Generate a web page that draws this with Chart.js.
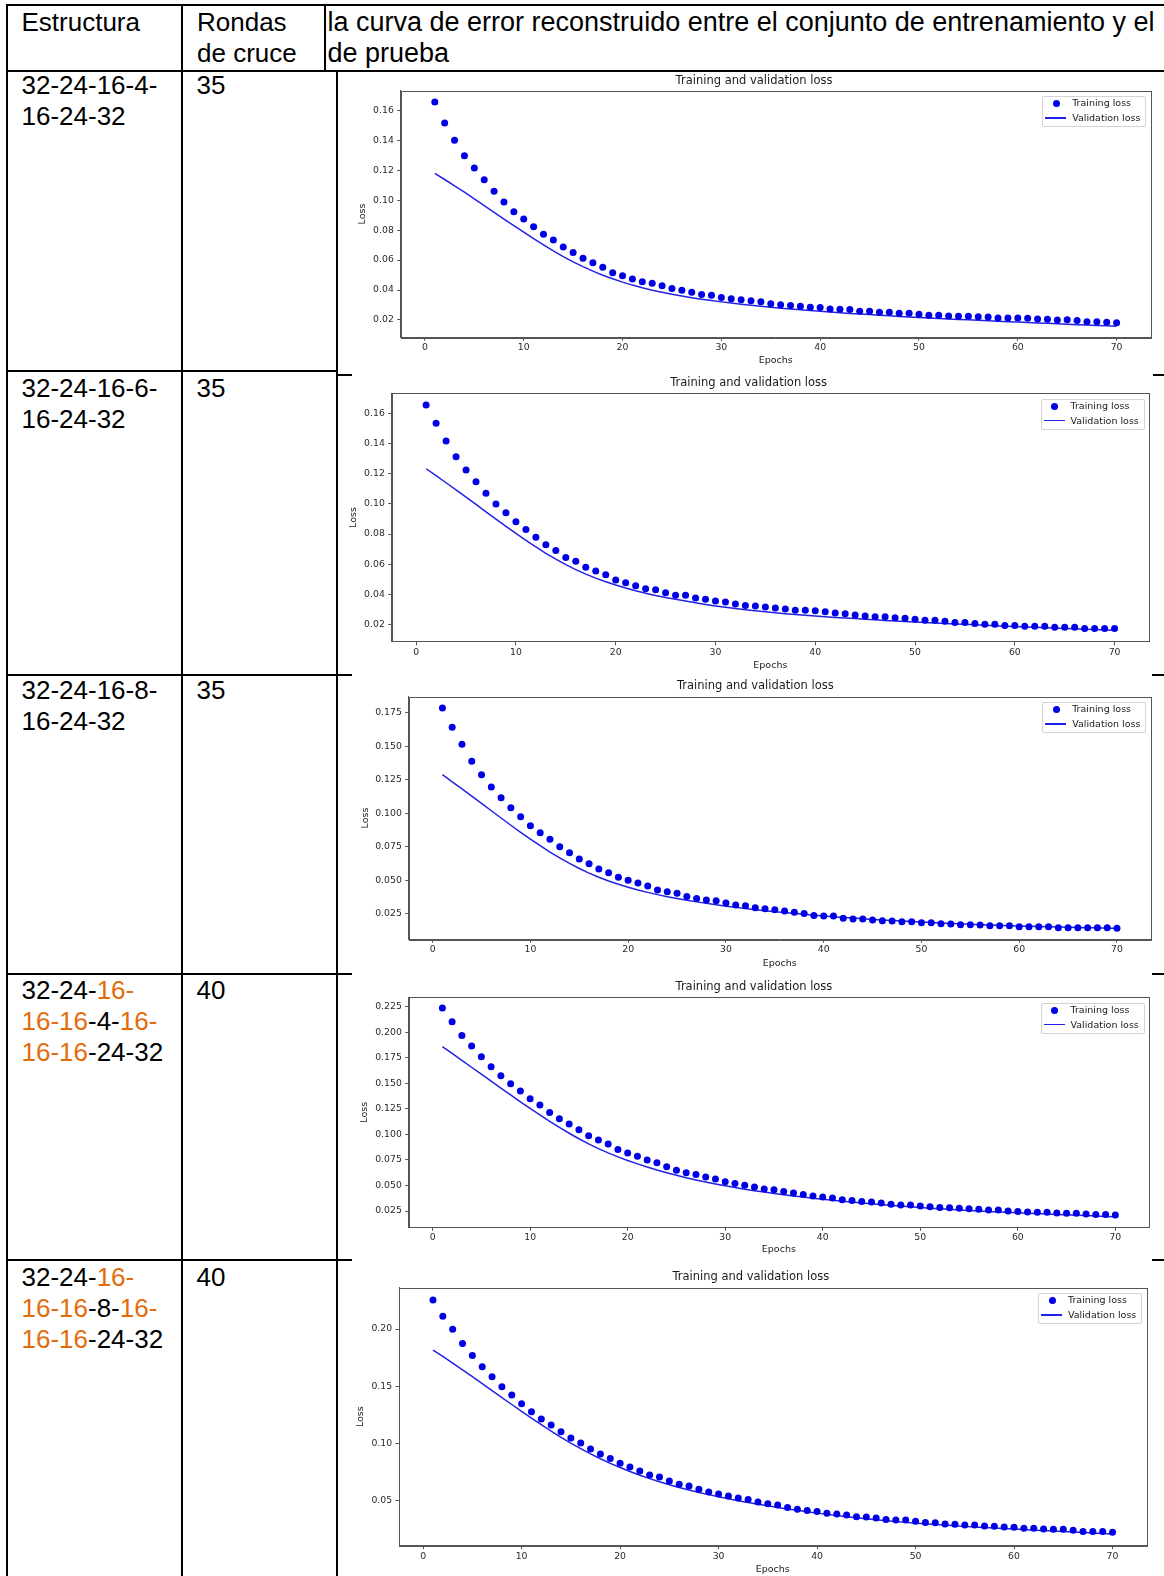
<!DOCTYPE html>
<html><head><meta charset="utf-8">
<script src="https://cdn.jsdelivr.net/npm/chart.js@4.4.1/dist/chart.umd.min.js"></script>
<style>
html,body{margin:0;padding:0;background:#fff;}
body{width:1164px;height:1576px;position:relative;overflow:hidden;font-family:"Liberation Sans",Arial,sans-serif;}
.ln{position:absolute;background:#000;}
.tx{position:absolute;font-size:26px;line-height:31px;color:#000;white-space:nowrap;}
.tx.h3{font-size:27px;}
.o{color:#e36c0a;}
canvas{position:absolute;}
.lg{position:absolute;box-sizing:border-box;width:104px;height:31px;border:1px solid rgba(204,204,204,0.85);border-radius:2px;background:rgba(255,255,255,0.8);font-family:"DejaVu Sans",sans-serif;font-size:9.5px;color:#1a1a1a;white-space:nowrap;}
.lg .dot{position:absolute;left:9.7px;top:3.2px;width:7px;height:7px;border-radius:50%;background:#0000e6;}
.lg .bar{position:absolute;left:2px;top:20.2px;width:21px;height:1.6px;background:#2020e6;}
.lg .t1{position:absolute;left:29px;top:0.6px;line-height:11.4px;}
.lg .t2{position:absolute;left:29px;top:15.3px;line-height:11.4px;}
</style>
</head><body>

<!-- table rules -->
<div class="ln" style="left:6.3px;top:4px;width:1157.7px;height:2px"></div>
<div class="ln" style="left:6.3px;top:4px;width:2px;height:1572px"></div>
<div class="ln" style="left:180.7px;top:4px;width:2px;height:1572px"></div>
<div class="ln" style="left:324px;top:4px;width:2px;height:67px"></div>
<div class="ln" style="left:336.3px;top:70px;width:2px;height:1506px"></div>
<div class="ln" style="left:6.3px;top:69.7px;width:1157.7px;height:2px"></div>
<div class="ln" style="left:6.3px;top:369.7px;width:332px;height:2px"></div>
<div class="ln" style="left:338px;top:373.7px;width:14px;height:2px"></div>
<div class="ln" style="left:1153px;top:373.7px;width:11px;height:2px"></div>
<div class="ln" style="left:6.3px;top:673.5px;width:346px;height:2px"></div>
<div class="ln" style="left:1152px;top:673.7px;width:12px;height:2px"></div>
<div class="ln" style="left:6.3px;top:973px;width:346px;height:2px"></div>
<div class="ln" style="left:1152px;top:973px;width:12px;height:2px"></div>
<div class="ln" style="left:6.3px;top:1259px;width:346px;height:2px"></div>
<div class="ln" style="left:1152px;top:1258.7px;width:12px;height:2px"></div>

<!-- header -->
<div class="tx" style="left:21.5px;top:7px">Estructura</div>
<div class="tx" style="left:197px;top:7px">Rondas<br>de cruce</div>
<div class="tx h3" style="left:327.5px;top:7px">la curva de error reconstruido entre el conjunto de entrenamiento y el<br>de prueba</div>

<!-- rows -->
<div class="tx" style="left:21.5px;top:70.3px">32-24-16-4-<br>16-24-32</div>
<div class="tx" style="left:196.5px;top:70.3px">35</div>
<div class="tx" style="left:21.5px;top:372.8px">32-24-16-6-<br>16-24-32</div>
<div class="tx" style="left:196.5px;top:372.8px">35</div>
<div class="tx" style="left:21.5px;top:675.4px">32-24-16-8-<br>16-24-32</div>
<div class="tx" style="left:196.5px;top:675.4px">35</div>
<div class="tx" style="left:21.5px;top:974.8px">32-24-<span class="o">16-</span><br><span class="o">16-16</span>-4-<span class="o">16-</span><br><span class="o">16-16</span>-24-32</div>
<div class="tx" style="left:196.5px;top:974.8px">40</div>
<div class="tx" style="left:21.5px;top:1262.4px">32-24-<span class="o">16-</span><br><span class="o">16-16</span>-8-<span class="o">16-</span><br><span class="o">16-16</span>-24-32</div>
<div class="tx" style="left:196.5px;top:1262.4px">40</div>

<canvas id="c1"></canvas><canvas id="c2"></canvas><canvas id="c3"></canvas><canvas id="c4"></canvas><canvas id="c5"></canvas>
<div class="lg" id="lg1"><span class="dot"></span><span class="bar"></span><span class="t1">Training loss</span><span class="t2">Validation loss</span></div>
<div class="lg" id="lg2"><span class="dot"></span><span class="bar"></span><span class="t1">Training loss</span><span class="t2">Validation loss</span></div>
<div class="lg" id="lg3"><span class="dot"></span><span class="bar"></span><span class="t1">Training loss</span><span class="t2">Validation loss</span></div>
<div class="lg" id="lg4"><span class="dot"></span><span class="bar"></span><span class="t1">Training loss</span><span class="t2">Validation loss</span></div>
<div class="lg" id="lg5"><span class="dot"></span><span class="bar"></span><span class="t1">Training loss</span><span class="t2">Validation loss</span></div>

<script>
const epochs = [1,2,3,4,5,6,7,8,9,10,11,12,13,14,15,16,17,18,19,20,21,22,23,24,25,26,27,28,29,30,31,32,33,34,35,36,37,38,39,40,41,42,43,44,45,46,47,48,49,50,51,52,53,54,55,56,57,58,59,60,61,62,63,64,65,66,67,68,69,70];
const xTicks = [0,10,20,30,40,50,60,70];
const xTickLabels = ['0','10','20','30','40','50','60','70'];

const train1 = [0.1655,0.1515,0.1400,0.1297,0.1215,0.1137,0.1060,0.0988,0.0923,0.0874,
 0.0823,0.0772,0.0734,0.0687,0.0650,0.0612,0.0583,0.0552,0.0516,0.0496,
 0.0474,0.0456,0.0445,0.0429,0.0411,0.0398,0.0385,0.0371,0.0365,0.0351,
 0.0342,0.0336,0.0329,0.0322,0.0309,0.0302,0.0296,0.0292,0.0285,0.0283,
 0.0274,0.0272,0.0270,0.0258,0.0258,0.0252,0.0252,0.0245,0.0245,0.0238,
 0.0231,0.0231,0.0227,0.0225,0.0225,0.0222,0.0220,0.0213,0.0213,0.0213,
 0.0211,0.0207,0.0205,0.0200,0.0202,0.0196,0.0189,0.0189,0.0185,0.0182];
const val1 = [0.1179,0.1138,0.1096,0.1053,0.1009,0.0964,0.0919,0.0874,0.0830,0.0786,
 0.0743,0.0701,0.0661,0.0623,0.0588,0.0556,0.0526,0.0499,0.0475,0.0453,
 0.0433,0.0415,0.0399,0.0385,0.0372,0.0360,0.0349,0.0339,0.0330,0.0321,
 0.0313,0.0305,0.0298,0.0291,0.0285,0.0279,0.0273,0.0268,0.0263,0.0258,
 0.0253,0.0248,0.0244,0.0240,0.0236,0.0232,0.0228,0.0224,0.0220,0.0216,
 0.0213,0.0210,0.0207,0.0204,0.0201,0.0198,0.0195,0.0192,0.0189,0.0186,
 0.0183,0.0180,0.0178,0.0175,0.0172,0.0169,0.0167,0.0164,0.0162,0.0159];
const yTicks1 = [0.02,0.04,0.06,0.08,0.10,0.12,0.14,0.16];
const yLabels1 = ['0.02','0.04','0.06','0.08','0.10','0.12','0.14','0.16'];

const train2 = [0.1658,0.1536,0.1418,0.1314,0.1226,0.1148,0.1071,0.1000,0.0942,0.0882,
 0.0831,0.0778,0.0729,0.0690,0.0645,0.0619,0.0579,0.0554,0.0530,0.0495,
 0.0477,0.0457,0.0437,0.0430,0.0410,0.0393,0.0393,0.0375,0.0366,0.0355,
 0.0348,0.0335,0.0326,0.0322,0.0315,0.0308,0.0302,0.0293,0.0293,0.0291,
 0.0284,0.0275,0.0271,0.0262,0.0255,0.0251,0.0251,0.0244,0.0240,0.0233,
 0.0227,0.0227,0.0220,0.0213,0.0213,0.0206,0.0200,0.0200,0.0193,0.0193,
 0.0187,0.0187,0.0187,0.0180,0.0180,0.0180,0.0173,0.0173,0.0173,0.0173];
const val2 = [0.1234,0.1188,0.1141,0.1094,0.1046,0.0997,0.0948,0.0899,0.0851,0.0804,
 0.0758,0.0714,0.0672,0.0633,0.0597,0.0564,0.0534,0.0507,0.0483,0.0461,
 0.0441,0.0423,0.0407,0.0392,0.0379,0.0367,0.0355,0.0343,0.0332,0.0322,
 0.0313,0.0305,0.0297,0.0290,0.0283,0.0277,0.0271,0.0266,0.0261,0.0256,
 0.0251,0.0246,0.0242,0.0238,0.0234,0.0230,0.0226,0.0222,0.0219,0.0215,
 0.0212,0.0209,0.0206,0.0203,0.0200,0.0197,0.0194,0.0191,0.0188,0.0186,
 0.0183,0.0181,0.0178,0.0176,0.0173,0.0171,0.0168,0.0166,0.0163,0.0161];
const yTicks2 = [0.02,0.04,0.06,0.08,0.10,0.12,0.14,0.16];
const yLabels2 = ['0.02','0.04','0.06','0.08','0.10','0.12','0.14','0.16'];

const train3 = [0.1785,0.1641,0.1514,0.1387,0.1287,0.1195,0.1116,0.1041,0.0974,0.0907,
 0.0854,0.0805,0.0750,0.0705,0.0658,0.0623,0.0583,0.0556,0.0521,0.0499,
 0.0479,0.0456,0.0427,0.0414,0.0402,0.0379,0.0364,0.0352,0.0347,0.0330,
 0.0315,0.0310,0.0295,0.0287,0.0280,0.0270,0.0260,0.0252,0.0237,0.0232,
 0.0232,0.0215,0.0210,0.0210,0.0202,0.0198,0.0195,0.0190,0.0190,0.0183,
 0.0183,0.0175,0.0173,0.0168,0.0168,0.0165,0.0160,0.0160,0.0160,0.0153,
 0.0153,0.0153,0.0153,0.0145,0.0145,0.0145,0.0145,0.0145,0.0145,0.0142];
const val3 = [0.1287,0.1234,0.1181,0.1127,0.1073,0.1018,0.0964,0.0910,0.0857,0.0806,
 0.0757,0.0710,0.0666,0.0625,0.0587,0.0553,0.0522,0.0494,0.0469,0.0447,
 0.0427,0.0409,0.0392,0.0377,0.0363,0.0350,0.0338,0.0327,0.0316,0.0306,
 0.0297,0.0288,0.0280,0.0272,0.0265,0.0258,0.0251,0.0245,0.0239,0.0233,
 0.0227,0.0222,0.0217,0.0212,0.0207,0.0203,0.0199,0.0195,0.0191,0.0187,
 0.0184,0.0180,0.0177,0.0174,0.0171,0.0168,0.0165,0.0162,0.0160,0.0158,
 0.0156,0.0154,0.0152,0.0150,0.0149,0.0147,0.0145,0.0144,0.0142,0.0141];
const yTicks3 = [0.025,0.050,0.075,0.100,0.125,0.150,0.175];
const yLabels3 = ['0.025','0.050','0.075','0.100','0.125','0.150','0.175'];

const train4 = [0.2237,0.2103,0.1969,0.1865,0.1760,0.1663,0.1574,0.1496,0.1424,0.1349,
 0.1287,0.1215,0.1153,0.1101,0.1046,0.0987,0.0945,0.0905,0.0853,0.0817,
 0.0785,0.0749,0.0723,0.0683,0.0648,0.0625,0.0608,0.0582,0.0563,0.0537,
 0.0520,0.0501,0.0484,0.0465,0.0458,0.0442,0.0426,0.0412,0.0396,0.0386,
 0.0377,0.0360,0.0354,0.0344,0.0337,0.0328,0.0315,0.0308,0.0308,0.0298,
 0.0292,0.0285,0.0282,0.0276,0.0272,0.0266,0.0259,0.0259,0.0250,0.0246,
 0.0240,0.0237,0.0237,0.0230,0.0227,0.0227,0.0220,0.0217,0.0217,0.0211];
const val4 = [0.1858,0.1792,0.1725,0.1657,0.1589,0.1521,0.1453,0.1386,0.1319,0.1254,
 0.1190,0.1128,0.1068,0.1011,0.0957,0.0907,0.0861,0.0819,0.0780,0.0744,
 0.0711,0.0680,0.0651,0.0624,0.0599,0.0576,0.0554,0.0534,0.0515,0.0497,
 0.0480,0.0464,0.0449,0.0435,0.0422,0.0409,0.0397,0.0386,0.0375,0.0365,
 0.0355,0.0346,0.0337,0.0329,0.0321,0.0313,0.0305,0.0298,0.0291,0.0284,
 0.0278,0.0272,0.0266,0.0261,0.0256,0.0251,0.0246,0.0241,0.0237,0.0233,
 0.0229,0.0225,0.0221,0.0217,0.0213,0.0209,0.0205,0.0201,0.0197,0.0193];
const yTicks4 = [0.025,0.050,0.075,0.100,0.125,0.150,0.175,0.200,0.225];
const yLabels4 = ['0.025','0.050','0.075','0.100','0.125','0.150','0.175','0.200','0.225'];

const train5 = [0.2254,0.2111,0.1997,0.1874,0.1769,0.1670,0.1583,0.1495,0.1422,0.1346,
 0.1276,0.1212,0.1159,0.1101,0.1046,0.1002,0.0949,0.0905,0.0867,0.0824,
 0.0792,0.0757,0.0722,0.0704,0.0669,0.0640,0.0625,0.0596,0.0573,0.0555,
 0.0538,0.0520,0.0508,0.0485,0.0470,0.0459,0.0438,0.0421,0.0412,0.0403,
 0.0386,0.0380,0.0371,0.0357,0.0354,0.0345,0.0333,0.0328,0.0328,0.0316,
 0.0307,0.0304,0.0293,0.0290,0.0284,0.0284,0.0275,0.0272,0.0267,0.0264,
 0.0255,0.0255,0.0249,0.0246,0.0246,0.0237,0.0228,0.0228,0.0228,0.0220];
const val5 = [0.1816,0.1760,0.1702,0.1643,0.1583,0.1522,0.1461,0.1400,0.1339,0.1279,
 0.1220,0.1162,0.1106,0.1052,0.1001,0.0953,0.0907,0.0864,0.0824,0.0787,
 0.0752,0.0720,0.0690,0.0662,0.0636,0.0612,0.0590,0.0569,0.0550,0.0532,
 0.0514,0.0497,0.0481,0.0466,0.0452,0.0438,0.0425,0.0413,0.0401,0.0388,
 0.0377,0.0367,0.0357,0.0348,0.0339,0.0330,0.0322,0.0314,0.0307,0.0300,
 0.0294,0.0288,0.0283,0.0277,0.0272,0.0267,0.0262,0.0257,0.0253,0.0248,
 0.0244,0.0239,0.0235,0.0231,0.0227,0.0223,0.0219,0.0215,0.0210,0.0205];
const yTicks5 = [0.05,0.10,0.15,0.20];
const yLabels5 = ['0.05','0.10','0.15','0.20'];

// layout of each pasted chart (page coordinates)
const layouts = [
  {id:'c1', lg:'lg1', top:72,   h:300, L:400.7, R:1150.7, T:90.7,   B:337.3,  titleY:80.7,   xlabY:361,    ylabX:363,   ymin:0.00845, ymax:0.17308},
  {id:'c2', lg:'lg2', top:373,  h:301, L:391.7, R:1149,   T:393.3,  B:641.7,  titleY:383.3,  xlabY:666,    ylabX:354,   ymin:0.00846, ymax:0.17354},
  {id:'c3', lg:'lg3', top:675,  h:299, L:408.7, R:1150.7, T:696.7,  B:939.3,  titleY:686,    xlabY:963.3,  ylabX:365.6, ymin:0.00587, ymax:0.18692},
  {id:'c4', lg:'lg4', top:975,  h:285, L:408.7, R:1149,   T:997.3,  B:1227.3, titleY:987.3,  xlabY:1250,   ylabX:364.6, ymin:0.00905, ymax:0.23417},
  {id:'c5', lg:'lg5', top:1261, h:315, L:399,   R:1146.5, T:1287.7, B:1545.7, titleY:1277.3, xlabY:1570,   ylabX:360.9, ymin:0.01028, ymax:0.23616}
];
const series = [
  [train1, val1, yTicks1, yLabels1],
  [train2, val2, yTicks2, yLabels2],
  [train3, val3, yTicks3, yLabels3],
  [train4, val4, yTicks4, yLabels4],
  [train5, val5, yTicks5, yLabels5]
];

const framePlugin = {
  id: 'frame',
  afterDraw(chart) {
    const a = chart.chartArea, c = chart.ctx;
    c.save();
    c.strokeStyle = '#555';
    c.lineWidth = 1;
    c.strokeRect(Math.round(a.left) + 0.5, Math.round(a.top) + 0.5, Math.round(a.right - a.left), Math.round(a.bottom - a.top));
    c.restore();
  }
};

const CL = 339, CW = 825;
const FONT = 'DejaVu Sans';

layouts.forEach((g, k) => {
  const [train, val, yT, yL] = series[k];
  const cv = document.getElementById(g.id);
  cv.width = CW; cv.height = g.h;
  cv.style.left = CL + 'px'; cv.style.top = g.top + 'px';
  cv.style.width = CW + 'px'; cv.style.height = g.h + 'px';
  const lhT = 11.5 * 1.2, lhA = 9.5 * 1.2;
  const padTop = g.titleY - lhT / 2 - g.top;
  const titlePadBottom = g.T - (g.titleY + lhT / 2);
  const padLeft = g.ylabX - lhA / 2 - CL;
  const yW = g.L - (g.ylabX - lhA / 2);
  const padRight = CL + CW - g.R;
  const xH = g.xlabY + lhA / 2 - g.B;
  const padBottom = g.top + g.h - (g.xlabY + lhA / 2);

  const chart = new Chart(cv, {
    type: 'line',
    data: {
      datasets: [
        {
          label: 'Training loss',
          data: epochs.map((e, i) => ({x: e, y: train[i]})),
          showLine: false,
          pointStyle: 'circle',
          pointRadius: 3.5,
          pointBackgroundColor: '#0000e6',
          pointBorderColor: '#0000e6',
          pointBorderWidth: 0,
          borderColor: '#0000e6'
        },
        {
          label: 'Validation loss',
          data: epochs.map((e, i) => ({x: e, y: val[i]})),
          borderColor: '#2222e6',
          borderWidth: 1.5,
          pointRadius: 0,
          tension: 0,
          fill: false
        }
      ]
    },
    options: {
      responsive: false,
      animation: false,
      devicePixelRatio: 1,
      events: [],
      layout: {padding: {top: padTop, left: padLeft, right: padRight, bottom: padBottom}},
      plugins: {
        legend: {display: false},
        tooltip: {enabled: false},
        title: {
          display: true,
          text: 'Training and validation loss',
          color: '#1a1a1a',
          font: {family: FONT, size: 11.5, weight: 'normal', lineHeight: 1.2},
          padding: {top: 0, bottom: titlePadBottom}
        }
      },
      scales: {
        x: {
          type: 'linear', min: -2.45, max: 73.45,
          afterBuildTicks: s => { s.ticks = xTicks.map(v => ({value: v})); },
          afterFit: s => { s.height = xH; },
          ticks: {autoSkip: false, maxRotation: 0, padding: 1.4, color: '#2a2a2a',
                  font: {family: FONT, size: 9.3, lineHeight: 1.2},
                  callback: (v, i) => xTickLabels[i]},
          grid: {drawOnChartArea: false, drawTicks: true, tickLength: 3.5, tickColor: '#555', tickWidth: 1},
          border: {display: true, color: '#555', width: 1},
          title: {display: true, text: 'Epochs', color: '#1a1a1a',
                  font: {family: FONT, size: 9.5, lineHeight: 1.2}, padding: 0}
        },
        y: {
          type: 'linear', min: g.ymin, max: g.ymax,
          afterBuildTicks: s => { s.ticks = yT.map(v => ({value: v})); },
          afterFit: s => { s.width = yW; },
          ticks: {autoSkip: false, padding: 3.4, color: '#2a2a2a',
                  font: {family: FONT, size: 9.3, lineHeight: 1.2},
                  callback: (v, i) => yL[i]},
          grid: {drawOnChartArea: false, drawTicks: true, tickLength: 3.5, tickColor: '#555', tickWidth: 1},
          border: {display: true, color: '#555', width: 1},
          title: {display: true, text: 'Loss', color: '#1a1a1a',
                  font: {family: FONT, size: 9.5, lineHeight: 1.2}, padding: 0}
        }
      }
    },
    plugins: [framePlugin]
  });

  const a = chart.chartArea;
  const lg = document.getElementById(g.lg);
  lg.style.left = (CL + a.right - 4.5 - 104) + 'px';
  lg.style.top = (g.top + a.top + 5.2) + 'px';
});
</script>
</body></html>
